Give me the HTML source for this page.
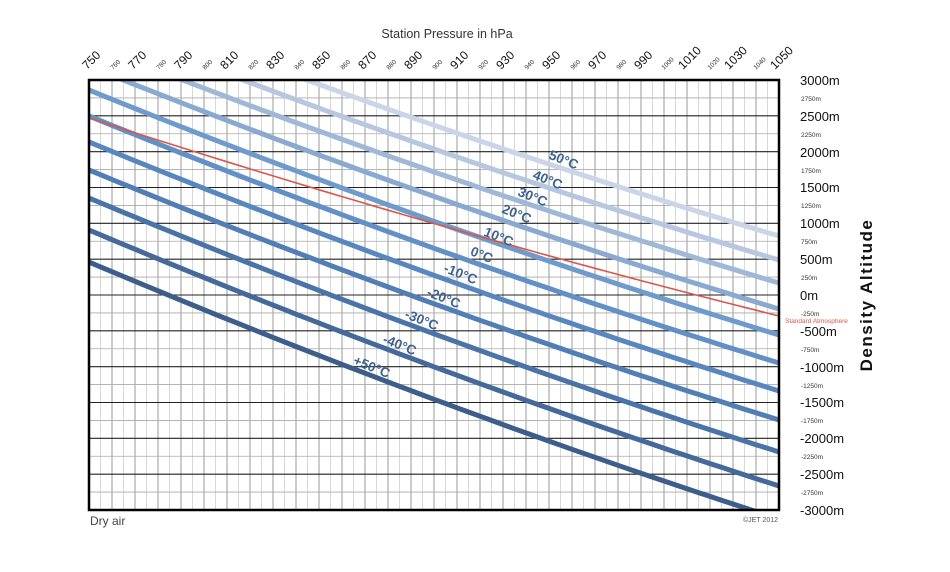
<!DOCTYPE html>
<html><head><meta charset="utf-8"><style>
html,body{margin:0;padding:0;background:#fff;}
svg{display:block;font-family:"Liberation Sans",sans-serif;}
</style></head><body>
<svg id="s" width="950" height="572" viewBox="0 0 950 572" xmlns="http://www.w3.org/2000/svg">
<g id="grid"></g>
<g id="curves"></g>
<rect x="89" y="80" width="690" height="430" fill="none" stroke="#000" stroke-width="2.5"/>
<text x="447" y="38" font-size="12.5" fill="#333" text-anchor="middle">Station Pressure in hPa</text>
<g font-size="12" fill="#111">
<text transform="translate(87,70) rotate(-45)">750</text>
<text transform="translate(133,70) rotate(-45)">770</text>
<text transform="translate(179,70) rotate(-45)">790</text>
<text transform="translate(225,70) rotate(-45)">810</text>
<text transform="translate(271,70) rotate(-45)">830</text>
<text transform="translate(317,70) rotate(-45)">850</text>
<text transform="translate(363,70) rotate(-45)">870</text>
<text transform="translate(409,70) rotate(-45)">890</text>
<text transform="translate(455,70) rotate(-45)">910</text>
<text transform="translate(501,70) rotate(-45)">930</text>
<text transform="translate(547,70) rotate(-45)">950</text>
<text transform="translate(593,70) rotate(-45)">970</text>
<text transform="translate(639,70) rotate(-45)">990</text>
<text transform="translate(683,70) rotate(-45)">1010</text>
<text transform="translate(729,70) rotate(-45)">1030</text>
<text transform="translate(775,70) rotate(-45)">1050</text>
</g>
<g font-size="6.5" fill="#333">
<text transform="translate(113,70) rotate(-45)">760</text>
<text transform="translate(159,70) rotate(-45)">780</text>
<text transform="translate(205,70) rotate(-45)">800</text>
<text transform="translate(251,70) rotate(-45)">820</text>
<text transform="translate(297,70) rotate(-45)">840</text>
<text transform="translate(343,70) rotate(-45)">860</text>
<text transform="translate(389,70) rotate(-45)">880</text>
<text transform="translate(435,70) rotate(-45)">900</text>
<text transform="translate(481,70) rotate(-45)">920</text>
<text transform="translate(527,70) rotate(-45)">940</text>
<text transform="translate(573,70) rotate(-45)">960</text>
<text transform="translate(619,70) rotate(-45)">980</text>
<text transform="translate(664,70) rotate(-45)">1000</text>
<text transform="translate(710,70) rotate(-45)">1020</text>
<text transform="translate(756,70) rotate(-45)">1040</text>
</g>
<g font-size="13" fill="#111">
<text x="800" y="85">3000m</text>
<text x="800" y="121">2500m</text>
<text x="800" y="157">2000m</text>
<text x="800" y="192">1500m</text>
<text x="800" y="228">1000m</text>
<text x="800" y="264">500m</text>
<text x="800" y="300">0m</text>
<text x="800" y="336">-500m</text>
<text x="800" y="372">-1000m</text>
<text x="800" y="407">-1500m</text>
<text x="800" y="443">-2000m</text>
<text x="800" y="479">-2500m</text>
<text x="800" y="515">-3000m</text>
</g>
<g font-size="6.5" fill="#333">
<text x="801" y="101">2750m</text>
<text x="801" y="137">2250m</text>
<text x="801" y="173">1750m</text>
<text x="801" y="208">1250m</text>
<text x="801" y="244">750m</text>
<text x="801" y="280">250m</text>
<text x="801" y="316">-250m</text>
<text x="801" y="352">-750m</text>
<text x="801" y="388">-1250m</text>
<text x="801" y="423">-1750m</text>
<text x="801" y="459">-2250m</text>
<text x="801" y="495">-2750m</text>
</g>
<text x="785" y="323" font-size="6.5" fill="#d9534a">Standard Atmosphere</text>
<text transform="translate(872,295) rotate(-90)" font-size="17" font-weight="bold" fill="#111" text-anchor="middle" letter-spacing="1.5">Density Altitude</text>
<text x="90" y="525" font-size="12" fill="#444">Dry air</text>
<text x="743" y="522" font-size="7" fill="#555">©JET 2012</text>
<g font-size="13.5" font-weight="bold" fill="#3d628f" text-anchor="middle">
<text transform="translate(562,164) rotate(22)">50°C</text>
<text transform="translate(546,184) rotate(22)">40°C</text>
<text transform="translate(531,201) rotate(22)">30°C</text>
<text transform="translate(515,218) rotate(22)">20°C</text>
<text transform="translate(497,241) rotate(22)">10°C</text>
<text transform="translate(480,259) rotate(22)">0°C</text>
<text transform="translate(459,278) rotate(22)">-10°C</text>
<text transform="translate(442,302) rotate(22)">-20°C</text>
<text transform="translate(420,324) rotate(22)">-30°C</text>
<text transform="translate(398,349) rotate(22)">-40°C</text>
<text transform="translate(370,371) rotate(22)">+50°C</text>
</g>
</svg>
<script>
(function(){
var NS="http://www.w3.org/2000/svg";
var g=document.getElementById('grid'),c=document.getElementById('curves');
function el(p,tag,a){var e=document.createElementNS(NS,tag);for(var k in a)e.setAttribute(k,a[k]);p.appendChild(e);return e;}
for(var i=1;i<60;i++){var x=89+i*11.5;el(g,'line',{x1:x,y1:80,x2:x,y2:510,stroke:i%2?'#d8d8d8':'#999','stroke-width':1});}
for(var j=1;j<24;j++){var y=80+j*430/24;el(g,'line',{x1:89,y1:y,x2:779,y2:y,stroke:j%2?'#aaa':'#222','stroke-width':j%2?0.8:1.1});}
function path(a,R,cc){var b=R-a-cc,d='';for(var k=0;k<=60;k++){var t=k/60,x=89+690*t,y=a+b*t+cc*t*t;d+=(k?'L':'M')+x.toFixed(1)+','+y.toFixed(1);}return d;}
var L=[[-3.1,236,'#cad6e7'],[20.5,260,'#b6c7df'],[43.4,283,'#a0b8d8'],[66.3,309,'#8aa9d1'],[90,335,'#6f9bcc'],[116,363,'#6190c6'],[142,391,'#5887c0'],[170,420,'#507eb5'],[198,452,'#4a74a8'],[230,486,'#44699a'],[262,519,'#3d5e8a']];
var clip=el(c,'clipPath',{id:'cp'});el(clip,'rect',{x:89,y:80,width:690,height:430});
var gg=el(c,'g',{'clip-path':'url(#cp)'});
L.forEach(function(l){el(gg,'path',{d:path(l[0],l[1],-35),fill:'none',stroke:l[2],'stroke-width':5});});
el(gg,'path',{d:path(118,316,-26),fill:'none',stroke:'#d9574b','stroke-width':1.6});
})();
</script>
</body></html>
